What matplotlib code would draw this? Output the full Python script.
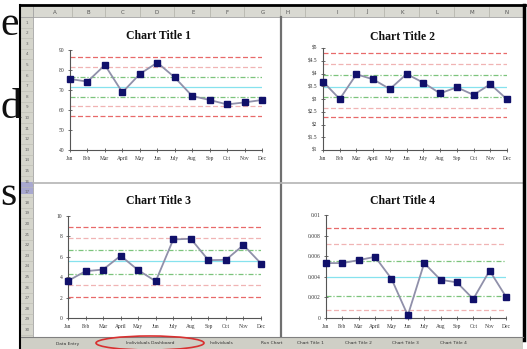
import matplotlib.pyplot as plt
from matplotlib.patches import Rectangle, Ellipse
from matplotlib.lines import Line2D

W, H = 527, 349

months = ['Jan', 'Feb', 'Mar', 'April', 'May', 'Jun', 'July', 'Aug', 'Sep', 'Oct', 'Nov', 'Dec']

c1 = [75.5, 74.2, 82.5, 68.8, 78.0, 83.7, 76.3, 67.0, 65.0, 62.8, 63.8, 65.0]
c1_limits = [86.3, 81.7, 76.7, 71.5, 66.7, 62.0, 57.0]
c1_ticks = [40, 50, 60, 70, 80, 90]
c1_labels = ['40', '50', '60', '70', '80', '90']

c2 = [3.68, 3.00, 3.97, 3.77, 3.39, 3.98, 3.64, 3.22, 3.46, 3.16, 3.58, 2.99]
c2_limits = [4.79, 4.36, 3.94, 3.48, 3.07, 2.66, 2.28]
c2_ticks = [1, 1.5, 2, 2.5, 3, 3.5, 4, 4.5, 5]
c2_labels = ['$1', '$1.5', '$2', '$2.5', '$3', '$3.5', '$4', '$4.5', '$5']

c3 = [3.64, 4.59, 4.75, 6.10, 4.69, 3.60, 7.70, 7.77, 5.67, 5.70, 7.15, 5.34]
c3_limits = [8.95, 7.80, 6.66, 5.60, 4.36, 3.20, 2.07]
c3_ticks = [0, 2, 4, 6, 8, 10]
c3_labels = ['0', '2', '4', '6', '8', '10']

c4 = [0.00533, 0.00533, 0.00562, 0.00594, 0.00381, 0.00025,
      0.00533, 0.00371, 0.00346, 0.00184, 0.00460, 0.00206]
c4_limits = [0.00873, 0.00720, 0.00556, 0.00397, 0.00213, 0.00080, -0.00075]
c4_ticks = [0, 0.002, 0.004, 0.006, 0.008, 0.01]
c4_labels = ['0', '0.002', '0.004', '0.006', '0.008', '0.01']

col_left = ['A', 'B', 'C', 'D', 'E', 'F', 'G']
col_right = ['H', 'I', 'J', 'K', 'L', 'M', 'N']
tabs = ['Data Entry', 'Individuals Dashboard', 'Individuals', 'Run Chart', 'Chart Title 1',
        'Chart Title 2', 'Chart Title 3', 'Chart Title 4']

# colours / styles of the control lines, top to bottom
dash = (0, (4, 2))
dashdot = (0, (4, 1.5, 1, 1.5))
lim_styles = [('#e86a6a', dash), ('#f0b4b4', dash), ('#7cc47c', dashdot),
              ('#86e2ee', '-'), ('#7cc47c', dashdot), ('#f0b4b4', dash),
              ('#e86a6a', dash)]


def fx(x):
    return x / W


def fy(y):
    return 1 - y / H


def rect(x0, y0, x1, y1, z=-3, **kw):
    fig.add_artist(Rectangle((fx(x0), fy(y1)), fx(x1) - fx(x0), fy(y0) - fy(y1),
                             transform=fig.transFigure, zorder=z, **kw))


def hline(x0, x1, y, z=-2, **kw):
    fig.add_artist(Line2D([fx(x0), fx(x1)], [fy(y), fy(y)], transform=fig.transFigure,
                          zorder=z, **kw))


def vline(x, y0, y1, z=-2, **kw):
    fig.add_artist(Line2D([fx(x), fx(x)], [fy(y0), fy(y1)], transform=fig.transFigure,
                          zorder=z, **kw))


fig = plt.figure(figsize=(W / 100, H / 100), dpi=100)
fig.patch.set_facecolor('white')

# text of the page to the left of the screenshot
for ch, x, y in [('e', 19, 35), ('d', 21, 118), ('s', 16, 205)]:
    fig.text(fx(x), fy(y), ch, ha='right', va='baseline', fontsize=30,
             family='Liberation Serif', color='#111111')

# spreadsheet window
rect(21, 6, 523, 345, facecolor='white', edgecolor='none', z=-5)
rect(21, 6, 523, 17, facecolor='#d9d9d2', edgecolor='none')
rect(21, 6, 33, 345, facecolor='#d5d5cc', edgecolor='none')
rect(21, 182, 33, 194, facecolor='#a8a8d0', edgecolor='none')
hline(20, 525, 5, color='black', lw=2, z=3)
vline(20, 5, 349, color='black', lw=1.5, z=3)
vline(524, 5, 340, color='black', lw=2.5, z=3)
hline(21, 523, 17, color='#a0a0a0', lw=0.6)
vline(33, 6, 338, color='#a0a0a0', lw=0.6)

xs_left = [55, 88, 123, 157, 193, 227, 263]
xs_right = [288, 337, 367, 402, 437, 472, 507]
for lab, x in zip(col_left + col_right, xs_left + xs_right):
    fig.text(fx(x), fy(12), lab, ha='center', va='center', fontsize=4, color='#555555')
    vline(x + 17, 7, 17, color='#b0b0a8', lw=0.5)
for i in range(1, 31):
    y = 17 + i * 10.6
    if y > 336:
        break
    fig.text(fx(27), fy(y - 5), str(i), ha='center', va='center', fontsize=3, color='#666666')
    hline(21, 33, y, color='#bbbbb2', lw=0.4)

# dividers between the four charts
vline(281, 17, 337, color='#707070', lw=1.6)
hline(33, 523, 183, color='#b4b4b4', lw=1.2)

# sheet tab bar
rect(21, 337, 523, 349, facecolor='#cfcfc6', edgecolor='none', z=2)
hline(21, 523, 337, color='#808080', lw=0.8, z=3)
tab_x = [68, 150, 222, 272, 310, 358, 405, 453]
for lab, x in zip(tabs, tab_x):
    fig.text(fx(x), fy(343.5), lab, ha='center', va='center', fontsize=3.2, color='#333333',
             zorder=4)
fig.add_artist(Ellipse((fx(150), fy(343)), fx(108), 14 / H, transform=fig.transFigure,
                       facecolor='none', edgecolor='#d83030', lw=1.2, zorder=5))

charts = [
    (c1, c1_limits, c1_ticks, c1_labels, (40, 90), (70, 262, 50, 150), 'Chart Title 1', (159, 36)),
    (c2, c2_limits, c2_ticks, c2_labels, (1, 5), (323, 507, 48, 150), 'Chart Title 2', (403, 37)),
    (c3, c3_limits, c3_ticks, c3_labels, (0, 10), (68, 261, 216, 318), 'Chart Title 3', (159, 201)),
    (c4, c4_limits, c4_ticks, c4_labels, (0, 0.01), (326, 506, 215, 318), 'Chart Title 4', (403, 201)),
]

for vals, lims, ticks, labels, ylim, (x0, x1, y0, y1), title, (tx, ty) in charts:
    ax = fig.add_axes([fx(x0), fy(y1), fx(x1) - fx(x0), fy(y0) - fy(y1)])
    ax.patch.set_alpha(0)
    idx = list(range(len(months)))
    for v, (col, ls) in zip(lims, lim_styles):
        ax.axhline(v, color=col, ls=ls, lw=0.9)
    ax.plot(idx, vals, color='#9090aa', lw=1.3, marker='s', ms=4,
            mfc='#10106a', mec='#10106a', clip_on=False, zorder=5)
    ax.set_xlim(0, len(months) - 1)
    ax.set_ylim(*ylim)
    ax.set_yticks(ticks)
    ax.set_yticklabels(labels)
    ax.set_xticks(idx)
    ax.set_xticklabels(months)
    for s in ['top', 'right']:
        ax.spines[s].set_visible(False)
    for s in ['left', 'bottom']:
        ax.spines[s].set_color('#555555')
        ax.spines[s].set_linewidth(0.8)
    ax.tick_params(direction='inout', length=3, width=0.6, color='#555555',
                   labelsize=4, labelcolor='#333333', pad=2.5)
    for t in ax.get_xticklabels() + ax.get_yticklabels():
        t.set_family('Liberation Serif')
    fig.text(fx(tx), fy(ty), title, ha='center', va='center', fontsize=8.5,
             fontweight='bold', family='Liberation Serif', color='#111111')

fig.savefig('out.png', dpi=100)
